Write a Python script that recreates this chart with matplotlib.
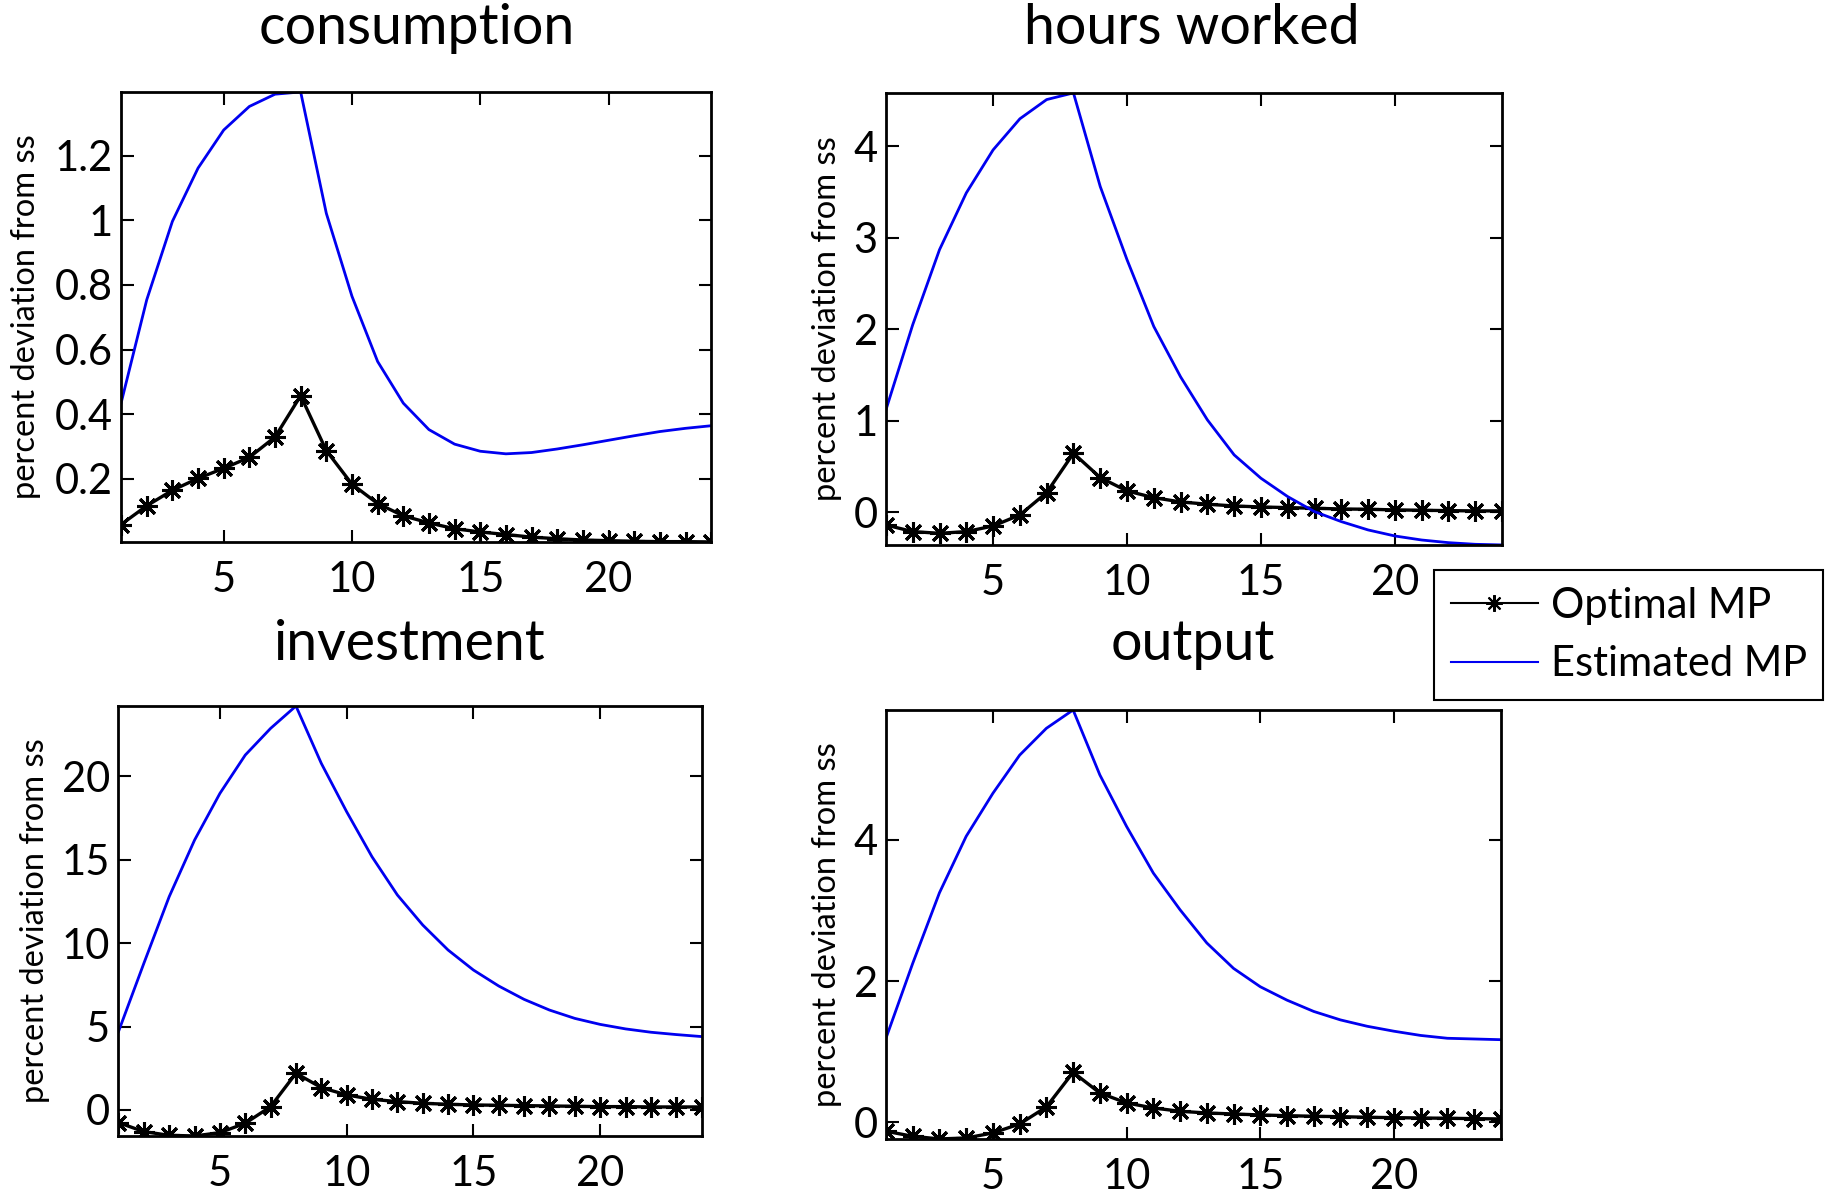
import numpy as np
import matplotlib.pyplot as plt
from matplotlib.ticker import FormatStrFormatter
from matplotlib.transforms import blended_transform_factory

plt.rcParams['font.family'] = ['Lato', 'DejaVu Sans']

horizon = np.arange(1, 25)

# impulse responses, percent deviation from steady state
cons_opt = [0.058, 0.116, 0.164, 0.201, 0.232, 0.266, 0.329, 0.457, 0.287, 0.183,
            0.123, 0.085, 0.063, 0.045, 0.035, 0.027, 0.019, 0.014, 0.010, 0.008,
            0.006, 0.005, 0.005, 0.004]
cons_est = [0.434, 0.754, 0.997, 1.162, 1.280, 1.353, 1.391, 1.398, 1.022, 0.765,
            0.563, 0.434, 0.352, 0.307, 0.285, 0.277, 0.281, 0.292, 0.305, 0.319,
            0.333, 0.346, 0.356, 0.364]

hours_opt = [-0.139, -0.211, -0.230, -0.211, -0.150, -0.029, 0.215, 0.645, 0.379, 0.233,
             0.160, 0.113, 0.088, 0.069, 0.058, 0.051, 0.044, 0.036, 0.033, 0.026,
             0.022, 0.018, 0.015, 0.015]
hours_est = [1.12, 2.05, 2.87, 3.49, 3.96, 4.30, 4.51, 4.583, 3.56, 2.76,
             2.03, 1.48, 1.01, 0.627, 0.372, 0.171, 0.007, -0.102, -0.193, -0.259,
             -0.303, -0.332, -0.350, -0.357]

inv_opt = [-0.76, -1.30, -1.52, -1.56, -1.36, -0.80, 0.20, 2.20, 1.34, 0.90,
           0.64, 0.50, 0.40, 0.34, 0.30, 0.28, 0.26, 0.24, 0.22, 0.20,
           0.20, 0.18, 0.18, 0.18]
inv_est = [4.70, 8.79, 12.79, 16.18, 18.98, 21.28, 22.88, 24.22, 20.78, 17.88,
           15.18, 12.89, 11.09, 9.59, 8.39, 7.43, 6.63, 5.99, 5.49, 5.13,
           4.86, 4.66, 4.52, 4.40]

out_opt = [-0.127, -0.198, -0.236, -0.222, -0.151, -0.024, 0.217, 0.708, 0.415, 0.274,
           0.203, 0.156, 0.132, 0.118, 0.104, 0.094, 0.085, 0.080, 0.071, 0.066,
           0.061, 0.057, 0.052, 0.047]
out_est = [1.19, 2.25, 3.25, 4.05, 4.66, 5.20, 5.58, 5.84, 4.92, 4.19,
           3.53, 3.01, 2.54, 2.18, 1.92, 1.73, 1.57, 1.45, 1.36, 1.29,
           1.23, 1.19, 1.18, 1.17]

titles = ['consumption', 'hours worked', 'investment', 'output']
optimal = [cons_opt, hours_opt, inv_opt, out_opt]
estimated = [cons_est, hours_est, inv_est, out_est]
yticks = [[0.2, 0.4, 0.6, 0.8, 1, 1.2], [0, 1, 2, 3, 4],
          [0, 5, 10, 15, 20], [0, 2, 4]]

# axes boxes in figure fractions [left, bottom, width, height]
boxes = [[0.0658, 0.5461, 0.3207, 0.3769],
         [0.4815, 0.5436, 0.3348, 0.3786],
         [0.0644, 0.0486, 0.3169, 0.3601],
         [0.4815, 0.0461, 0.3342, 0.3593]]
title_xy = [(417, 29), (1192, 29), (410, 645), (1193, 645)]
ylabel_x = [26, 827, 35, 827]

fig = plt.figure(figsize=(18.4, 11.94), dpi=100)
asterisk = (8, 2, 0)

for i in range(4):
    ax = fig.add_axes(boxes[i])
    l1, = ax.plot(horizon, optimal[i], color='black', lw=2.4, marker=asterisk,
                  ms=15, mew=2.2, label='Optimal MP')
    l2, = ax.plot(horizon, estimated[i], color='#0000f0', lw=2,
                  label='Estimated MP')
    lo = min(min(optimal[i]), min(estimated[i]))
    hi = max(max(optimal[i]), max(estimated[i]))
    ax.set_xlim(1, 24)
    ax.set_ylim(lo, hi)
    ax.set_xticks([5, 10, 15, 20])
    ax.set_yticks(yticks[i])
    ax.yaxis.set_major_formatter(FormatStrFormatter('%g'))
    ax.tick_params(direction='in', length=9, width=1.5, labelsize=30,
                   top=True, right=True)
    ax.tick_params(axis='x', pad=14)
    ax.tick_params(axis='y', pad=6)
    for s in ax.spines.values():
        s.set_linewidth(2)
    ax.set_ylabel('percent deviation from ss', fontsize=23.5)
    ax.yaxis.set_label_coords(ylabel_x[i] / 1840, 0.5,
                              transform=blended_transform_factory(fig.transFigure, ax.transAxes))
    ax.yaxis.label.set_va('center')
    fig.text(title_xy[i][0] / 1840, 1 - title_xy[i][1] / 1194, titles[i],
             fontsize=40, ha='center', va='center')

leg = fig.legend([l1, l2], ['Optimal MP', 'Estimated MP'], loc='upper left',
                 bbox_to_anchor=(1434 / 1840, 1 - 570 / 1194), borderaxespad=0,
                 fontsize=30, fancybox=False, edgecolor='black', framealpha=1,
                 handlelength=2.1, handletextpad=0.3, borderpad=0.4,
                 labelspacing=0.5)
leg.get_frame().set_linewidth(1.5)
for h in leg.get_lines():
    h.set_linewidth(1.5)
    h.set_markeredgewidth(1.5)
    h.set_markersize(12)

fig.savefig('out.png', dpi=100)
